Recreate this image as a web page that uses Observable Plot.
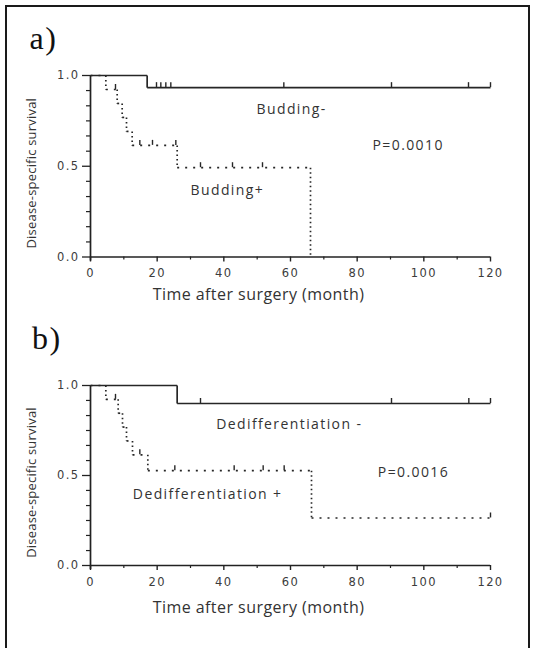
<!DOCTYPE html>
<html><head><meta charset="utf-8">
<script src="https://cdn.jsdelivr.net/npm/d3@7"></script>
<script src="https://cdn.jsdelivr.net/npm/@observablehq/plot@0.6"></script>
<style>
html,body{margin:0;padding:0;background:#fff;overflow:hidden;width:535px;height:648px;}
#frame{position:absolute;left:5px;top:5px;width:525px;height:700px;border:2px solid #1a1a1a;box-sizing:border-box;}
.panel{position:absolute;left:0;}
</style></head><body>
<div id="frame"></div>
<div id="pa" class="panel" style="top:0px"></div>
<div id="pb" class="panel" style="top:310px"></div>
<script>
// ---- axis ticks ----
const xTicks = [0, 20, 40, 60, 80, 100, 120];
const xTickLabels = ["0", "20", "40", "60", "80", "100", "120"];
const xMinorTicks = [10, 30, 50, 70, 90, 110];
const yTicks = [0, 0.5, 1];
const yTickLabels = ["0.0", "0.5", "1.0"];
const yMinorTicks = [0.083, 0.167, 0.25, 0.333, 0.417, 0.583, 0.667, 0.75, 0.833, 0.917];
const xTitle = "Time after surgery (month)";
const yTitle = "Disease-specific survival";

// ---- panel a: Budding ----
const budNegTime = [0, 17, 120];
const budNegSurv = [1, 0.933, 0.933];
const budNegCensorTime = [19.8, 21.1, 22.6, 24.1, 58, 90.3, 113.4, 120];
const budNegCensorSurv = [0.933, 0.933, 0.933, 0.933, 0.933, 0.933, 0.933, 0.933];
const budPosTime = [0, 4.6, 8.0, 9.5, 10.8, 12.5, 26, 66];
const budPosSurv = [1, 0.923, 0.846, 0.769, 0.692, 0.615, 0.492, 0];
const budPosCensorTime = [7.5, 14.8, 18.6, 25.6, 33, 42.6, 51.6];
const budPosCensorSurv = [0.923, 0.615, 0.615, 0.615, 0.492, 0.492, 0.492];
const annoTextA = ["Budding-", "P=0.0010", "Budding+"];
const annoXA = [49.8, 84.6, 30];
const annoYA = [0.812, 0.614, 0.369];

// ---- panel b: Dedifferentiation ----
const dedNegTime = [0, 26, 120];
const dedNegSurv = [1, 0.9, 0.9];
const dedNegCensorTime = [33, 90.3, 113.5, 120];
const dedNegCensorSurv = [0.9, 0.9, 0.9, 0.9];
const dedPosTime = [0, 4.6, 8.3, 9.6, 10.8, 12.6, 17.2, 66.3, 120];
const dedPosSurv = [1, 0.923, 0.846, 0.769, 0.692, 0.615, 0.527, 0.264, 0.264];
const dedPosCensorTime = [7.5, 14.8, 25.3, 43.1, 51.8, 58.1, 120];
const dedPosCensorSurv = [0.923, 0.615, 0.527, 0.527, 0.527, 0.527, 0.264];
const annoTextB = ["Dedifferentiation -", "P=0.0016", "Dedifferentiation +"];
const annoXB = [37.7, 86.2, 12.7];
const annoYB = [0.784, 0.517, 0.394];

function stepSegments(t, s) {
  const h = [], v = [];
  for (let i = 0; i < t.length - 1; i++) {
    if (t[i + 1] > t[i]) h.push({x1: t[i], x2: t[i + 1], y: s[i]});
    if (s[i + 1] !== s[i]) v.push({x: t[i + 1], y1: s[i], y2: s[i + 1]});
  }
  return {h, v};
}

const LINE = "#262626";
const TXT = "#333";

function makePanel(p) {
  const solid = stepSegments(p.solidT, p.solidS);
  const dotted = stepSegments(p.dotT, p.dotS);
  const cens = p.solidCT.map((t, i) => ({t, s: p.solidCS[i]}))
    .concat(p.dotCT.map((t, i) => ({t, s: p.dotCS[i]})));
  const annos = p.annoText.map((text, i) => ({text, x: p.annoX[i], y: p.annoY[i]}));
  const svg = Plot.plot({
    width: 535, height: p.height,
    marginLeft: 90, marginRight: 45, marginTop: p.marginTop, marginBottom: p.marginBottom,
    x: {domain: [0, 120]},
    y: {domain: [0, 1]},
    style: {background: "transparent", color: "#222", overflow: "visible"},
    marks: [
      Plot.axisY({ticks: yMinorTicks, tickSize: 4, fill: "none", stroke: "#222", strokeWidth: 1.2, label: null}),
      Plot.axisY({ticks: yTicks, tickSize: 8, tickPadding: 3, tickFormat: d => yTickLabels[yTicks.indexOf(d)],
        fontSize: 11.5, fontFamily: "DejaVu Sans", fill: "#3c3c3c", stroke: "#222", strokeWidth: 1.3, label: null}),
      Plot.axisX({ticks: xMinorTicks, tickSize: 3, fill: "none", stroke: "#222", strokeWidth: 1.2, label: null}),
      Plot.axisX({ticks: xTicks, tickSize: 5, tickPadding: 7, tickFormat: d => xTickLabels[xTicks.indexOf(d)],
        fontSize: 11.5, fontFamily: "DejaVu Sans", fill: "#3c3c3c", stroke: "#222", strokeWidth: 1.4, label: null}),
      Plot.ruleY([0], {stroke: "#222", strokeWidth: 1.7}),
      Plot.ruleX([0], {stroke: "#222", strokeWidth: 1.7, insetBottom: -4}),
      Plot.link(solid.h, {x1: "x1", x2: "x2", y1: "y", y2: "y", stroke: LINE, strokeWidth: 1.7}),
      Plot.link(solid.v, {x1: "x", x2: "x", y1: "y1", y2: "y2", stroke: LINE, strokeWidth: 1.7}),
      Plot.link(dotted.h, {x1: "x1", x2: "x2", y1: "y", y2: "y", stroke: LINE, strokeWidth: 1.7, strokeDasharray: "2,6"}),
      Plot.link(dotted.v, {x1: "x", x2: "x", y1: "y1", y2: "y2", stroke: LINE, strokeWidth: 1.7, strokeDasharray: "1.5,3"}),
      Plot.ruleX(cens, {x: "t", y1: "s", y2: "s", insetBottom: 5, stroke: LINE, strokeWidth: 1.4}),
      Plot.text(annos, {x: "x", y: "y", text: "text", textAnchor: "start", lineAnchor: "middle", fontSize: 14, fontFamily: "Open Sans", fill: TXT}),
      Plot.text([xTitle], {text: d => d, frameAnchor: "bottom", textAnchor: "middle", lineAnchor: "middle", dx: -32, dy: p.titleDy, fontSize: 16, fontFamily: "Open Sans", fill: TXT}),
      Plot.text([yTitle], {text: d => d, frameAnchor: "left", textAnchor: "middle", lineAnchor: "middle", rotate: -90, dx: -59, dy: 7, fontSize: 13, fontFamily: "Open Sans", fill: TXT}),
      Plot.text([p.tag], {text: d => d, frameAnchor: "top-left", textAnchor: "start", lineAnchor: "middle", dx: p.tagDx, dy: p.tagDy, fontSize: 32, fontFamily: "Liberation Serif", fill: "#111"})
    ]
  });
  const spacing = {"14": "1.4px", "16": "0.45px", "13": "0.2px", "32": "1.5px"};
  d3.select(svg).selectAll('g[aria-label="text"]').each(function () {
    const fs = this.getAttribute("font-size");
    if (spacing[fs]) this.setAttribute("letter-spacing", spacing[fs]);
  });
  d3.select(svg).selectAll('g[aria-label="x-axis tick label"], g[aria-label="y-axis tick label"]')
    .attr("letter-spacing", "1.4px");
  return svg;
}

document.getElementById("pa").appendChild(makePanel({
  solidT: budNegTime, solidS: budNegSurv, solidCT: budNegCensorTime, solidCS: budNegCensorSurv,
  dotT: budPosTime, dotS: budPosSurv, dotCT: budPosCensorTime, dotCS: budPosCensorSurv,
  annoText: annoTextA, annoX: annoXA, annoY: annoYA,
  tag: "a)", tagDx: -61, tagDy: -37, titleDy: 38,
  height: 310, marginTop: 75, marginBottom: 53.5
}));
document.getElementById("pb").appendChild(makePanel({
  solidT: dedNegTime, solidS: dedNegSurv, solidCT: dedNegCensorTime, solidCS: dedNegCensorSurv,
  dotT: dedPosTime, dotS: dedPosSurv, dotCT: dedPosCensorTime, dotCS: dedPosCensorSurv,
  annoText: annoTextB, annoX: annoXB, annoY: annoYB,
  tag: "b)", tagDx: -58.5, tagDy: -47, titleDy: 42,
  height: 338, marginTop: 75, marginBottom: 83
}));
</script></body></html>
